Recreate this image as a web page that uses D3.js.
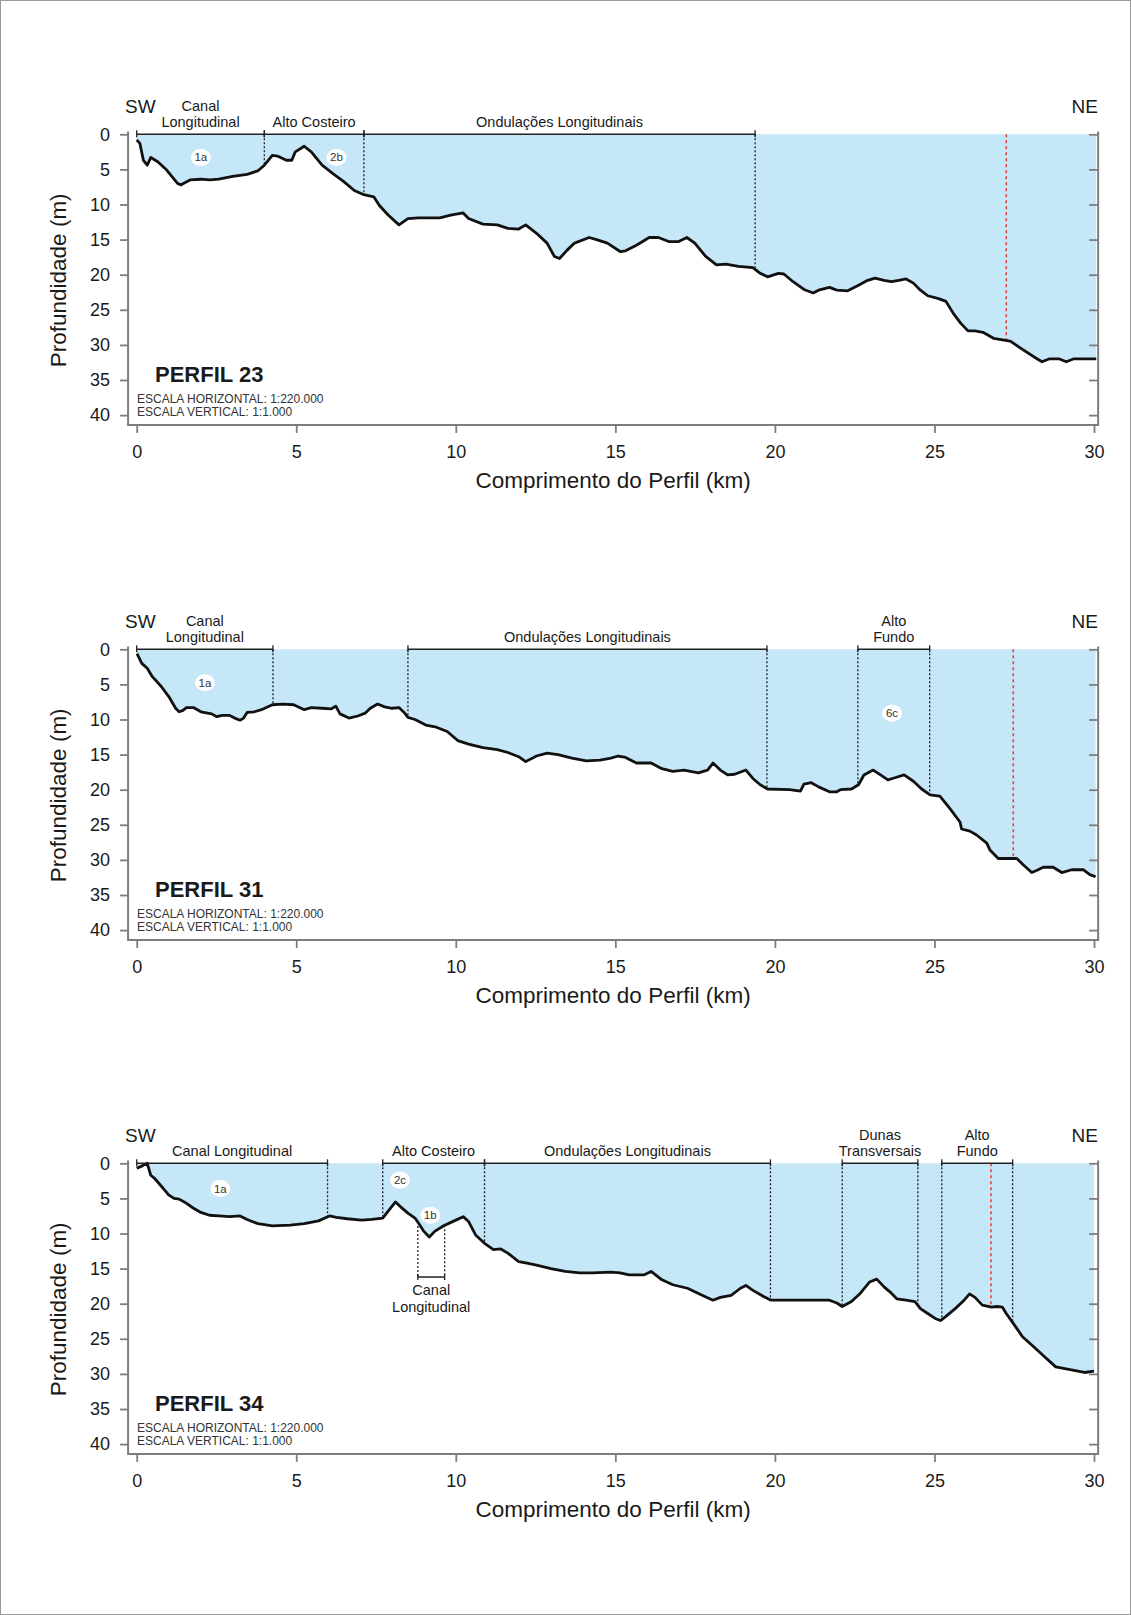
<!DOCTYPE html>
<html>
<head>
<meta charset="utf-8">
<script src="https://cdn.jsdelivr.net/npm/d3@7"></script>
<style>
  body { margin: 0; background: #fff; }
  text { font-family: "Liberation Sans", Arial, sans-serif; fill: #1a1a1a; }
</style>
</head>
<body>
<svg id="chart"></svg>
<script>
// ---- data: [distance km, depth m] ----
var profile23 = [[0,0.8],[0.1,1.3],[0.21,3.7],[0.33,4.4],[0.44,3.3],[0.66,3.9],[0.94,5.1],[1.28,7.0],[1.39,7.2],[1.67,6.5],[2.01,6.4],[2.3,6.5],[2.57,6.4],[3.01,6.0],[3.46,5.7],[3.8,5.2],[4.0,4.4],[4.25,3.0],[4.41,3.1],[4.69,3.7],[4.86,3.7],[4.97,2.5],[5.25,1.7],[5.47,2.5],[5.81,4.4],[6.15,5.6],[6.48,6.7],[6.82,8.0],[7.12,8.6],[7.43,8.9],[7.6,10.1],[7.88,11.5],[8.22,12.9],[8.5,12.0],[8.83,11.9],[9.5,11.9],[9.84,11.5],[10.23,11.2],[10.4,12.0],[10.85,12.8],[11.3,12.9],[11.63,13.4],[11.97,13.5],[12.19,12.9],[12.53,14.1],[12.86,15.5],[13.09,17.4],[13.25,17.7],[13.49,16.5],[13.72,15.5],[14.18,14.7],[14.41,15.0],[14.75,15.5],[15.15,16.7],[15.32,16.6],[15.66,15.8],[16.06,14.7],[16.35,14.7],[16.69,15.3],[16.97,15.3],[17.24,14.7],[17.49,15.5],[17.83,17.4],[18.17,18.6],[18.46,18.5],[18.86,18.8],[19.31,19.0],[19.54,19.8],[19.77,20.3],[20.11,19.8],[20.28,19.9],[20.57,21.0],[20.91,22.1],[21.2,22.6],[21.37,22.2],[21.71,21.8],[21.94,22.2],[22.28,22.3],[22.62,21.5],[22.91,20.8],[23.14,20.5],[23.42,20.8],[23.65,21.0],[23.88,20.8],[24.11,20.6],[24.34,21.2],[24.56,22.2],[24.79,23.0],[25.13,23.4],[25.36,23.8],[25.59,25.5],[25.82,26.9],[26.05,28.0],[26.27,28.0],[26.52,28.2],[26.85,29.06],[27.28,29.4],[27.39,29.5],[27.71,30.5],[28.15,31.8],[28.37,32.4],[28.59,32.0],[28.92,32.0],[29.13,32.4],[29.35,32.0],[30.07,32.0]];

var profile31 = [[0.01,0.6],[0.16,2.0],[0.33,2.7],[0.49,3.9],[0.77,5.3],[1.0,6.7],[1.22,8.4],[1.33,8.9],[1.45,8.7],[1.56,8.3],[1.78,8.3],[2.01,8.9],[2.35,9.2],[2.51,9.6],[2.68,9.4],[2.9,9.4],[3.07,9.8],[3.24,10.1],[3.35,9.8],[3.46,9.0],[3.69,8.9],[3.91,8.6],[4.25,7.9],[4.58,7.8],[4.92,7.9],[5.25,8.6],[5.47,8.3],[5.81,8.4],[6.09,8.5],[6.24,8.1],[6.37,9.2],[6.65,9.8],[6.93,9.5],[7.16,9.1],[7.32,8.4],[7.55,7.8],[7.77,8.2],[8.0,8.4],[8.22,8.3],[8.38,9.0],[8.5,9.7],[8.72,10.0],[9.06,10.8],[9.39,11.1],[9.73,11.7],[10.06,13.0],[10.4,13.5],[10.85,14.0],[11.3,14.3],[11.63,14.7],[11.97,15.3],[12.19,16.0],[12.53,15.2],[12.86,14.8],[13.2,15.0],[13.64,15.5],[14.09,15.9],[14.52,15.8],[14.86,15.5],[15.09,15.2],[15.32,15.4],[15.66,16.2],[16.12,16.2],[16.46,17.0],[16.8,17.4],[17.15,17.2],[17.6,17.6],[17.89,17.2],[18.06,16.2],[18.29,17.2],[18.52,17.9],[18.74,17.8],[19.09,17.2],[19.31,18.4],[19.54,19.3],[19.77,19.9],[20.46,20.0],[20.8,20.2],[20.91,19.2],[21.14,19.0],[21.37,19.6],[21.71,20.3],[21.94,20.3],[22.05,20.0],[22.4,19.9],[22.62,19.3],[22.79,17.9],[23.08,17.2],[23.31,17.9],[23.54,18.6],[23.76,18.3],[24.05,17.9],[24.34,18.8],[24.6,19.9],[24.86,20.75],[25.17,20.9],[25.48,22.65],[25.8,24.6],[25.85,25.6],[26.11,25.9],[26.32,26.45],[26.64,27.6],[26.74,28.6],[27.0,29.8],[27.58,29.8],[27.78,30.7],[28.05,31.8],[28.2,31.5],[28.41,31.05],[28.72,31.05],[28.99,31.8],[29.3,31.4],[29.66,31.4],[29.87,32.1],[30.05,32.4]];

var profile34 = [[0,0.7],[0.16,0.4],[0.33,0.0],[0.44,1.7],[0.55,2.1],[0.78,3.3],[1.0,4.5],[1.17,5.0],[1.33,5.1],[1.56,5.7],[1.78,6.4],[2.01,7.0],[2.28,7.4],[2.57,7.5],[2.9,7.6],[3.24,7.5],[3.46,8.0],[3.8,8.6],[4.25,8.9],[4.81,8.8],[5.25,8.6],[5.7,8.2],[6.04,7.5],[6.26,7.7],[6.6,7.9],[7.04,8.1],[7.37,8.0],[7.71,7.8],[7.88,6.8],[8.11,5.5],[8.27,6.2],[8.5,7.1],[8.72,7.8],[8.83,8.5],[9.0,9.7],[9.17,10.5],[9.34,9.7],[9.62,8.9],[9.95,8.2],[10.23,7.6],[10.4,8.3],[10.62,10.2],[10.9,11.4],[11.18,12.3],[11.41,12.2],[11.63,12.8],[11.97,14.0],[12.19,14.2],[12.53,14.5],[12.98,15.0],[13.43,15.4],[13.88,15.6],[14.29,15.6],[14.86,15.5],[15.15,15.6],[15.43,15.9],[15.89,15.9],[16.12,15.4],[16.46,16.6],[16.8,17.3],[17.26,17.8],[17.72,18.8],[18.06,19.5],[18.29,19.1],[18.63,18.8],[18.92,17.8],[19.09,17.4],[19.31,18.1],[19.66,19.0],[19.88,19.5],[20.34,19.5],[21.71,19.5],[21.94,19.9],[22.11,20.4],[22.4,19.7],[22.68,18.5],[22.97,16.9],[23.19,16.5],[23.42,17.6],[23.65,18.5],[23.82,19.3],[24.11,19.5],[24.39,19.7],[24.56,20.7],[24.79,21.4],[25.02,22.1],[25.19,22.4],[25.36,21.8],[25.65,20.7],[25.93,19.5],[26.1,18.6],[26.27,19.1],[26.5,20.2],[26.79,20.5],[26.96,20.4],[27.13,20.5],[27.25,21.4],[27.47,22.8],[27.76,24.7],[28.1,26.1],[28.39,27.3],[28.8,29.0],[29.25,29.4],[29.7,29.8],[30.0,29.6]];

// morphology segments along the top (km)
var brackets23 = [{from:0, to:4.0, label:["Canal","Longitudinal"]},
                  {from:4.0, to:7.12, label:["Alto Costeiro"]},
                  {from:7.12, to:19.38, label:["Ondulações Longitudinais"]}];
var brackets31 = [{from:0, to:4.27, label:["Canal","Longitudinal"]},
                  {from:8.5, to:19.75, label:["Ondulações Longitudinais"]},
                  {from:22.6, to:24.85, label:["Alto","Fundo"]}];
var brackets34 = [{from:0, to:5.98, label:["Canal Longitudinal"]},
                  {from:7.71, to:10.9, label:["Alto Costeiro"]},
                  {from:10.9, to:19.86, label:["Ondulações Longitudinais"]},
                  {from:22.11, to:24.48, label:["Dunas","Transversais"]},
                  {from:25.23, to:27.45, label:["Alto","Fundo"]}];

// dotted boundaries and the red marker (km)
var cuts23 = [4.0, 7.12, 19.38];
var cuts31 = [4.27, 8.5, 19.75, 22.6, 24.85];
var cuts34 = [5.98, 7.71, 10.9, 19.86, 22.11, 24.48, 25.23, 27.45];
var red23 = 27.25, red31 = 27.47, red34 = 26.77;

// unit tags [km, depth, text]
var tags23 = [[2.01,3.3,"1a"],[6.26,3.3,"2b"]];
var tags31 = [[2.14,4.75,"1a"],[23.67,9.1,"6c"]];
var tags34 = [[2.62,3.6,"1a"],[8.25,2.4,"2c"],[9.2,7.4,"1b"]];

// the small channel bracket under profile 34
var subCanal34 = {from:8.81, to:9.65, depth:16.2, label:["Canal","Longitudinal"]};

var titles = ["PERFIL 23","PERFIL 31","PERFIL 34"];
var depthTicks = [0,5,10,15,20,25,30,35,40];
var kmTicks = [0,5,10,15,20,25,30];

var W = 1131, H = 1615;
var svg = d3.select("#chart").attr("width", W).attr("height", H);

svg.append("rect").attr("x",0.5).attr("y",0.5).attr("width",W-1).attr("height",H-1)
   .attr("fill","#fff").attr("stroke","#9a9a9a").attr("stroke-width",1);

var panelTops = [134.3, 649.3, 1163.3];
var axisColor = "#7d7d7d";

function depthAt(profile, km) {
  var i = d3.bisector(function(d){return d[0];}).left(profile, km);
  if (i <= 0) return profile[0][1];
  if (i >= profile.length) return profile[profile.length-1][1];
  var a = profile[i-1], b = profile[i];
  var t = (km - a[0]) / (b[0] - a[0]);
  return a[1] + t*(b[1]-a[1]);
}

var drawPanel = function(top, profile, brackets, cuts, red, tags, title, sub)
{
  var x = d3.scaleLinear().domain([0,30]).range([136.7, 1094]);
  var y = d3.scaleLinear().domain([0,40]).range([top, top + 280.8]);

  var g = svg.append("g");
  var left = x(-0.27), right = x(30.13), bottom = y(41.4), axTop = y(-0.4);

  // water
  var area = d3.area()
               .x(function(d){return x(d[0]);})
               .y0(y(0))
               .y1(function(d){return y(d[1]);});
  g.append("path").datum(profile)
   .attr("d", area)
   .attr("fill", "#c6e7f8");

  // dotted boundaries
  g.selectAll("line.cut").data(cuts).enter().append("line")
   .attr("x1", function(d){return x(d);}).attr("x2", function(d){return x(d);})
   .attr("y1", y(0)).attr("y2", function(d){return y(depthAt(profile,d));})
   .attr("stroke", "#222").attr("stroke-width", 1.3).attr("stroke-dasharray","2,2");

  g.append("line")
   .attr("x1", x(red)).attr("x2", x(red))
   .attr("y1", y(0)).attr("y2", y(depthAt(profile,red)))
   .attr("stroke", "#e2463c").attr("stroke-width", 1.6).attr("stroke-dasharray","3,3");

  // seabed
  var line = d3.line().x(function(d){return x(d[0]);}).y(function(d){return y(d[1]);});
  g.append("path").datum(profile)
   .attr("d", line)
   .attr("fill","none").attr("stroke","#111").attr("stroke-width",2.8)
   .attr("stroke-linejoin","round");

  // brackets on top
  var br = g.selectAll("g.br").data(brackets).enter().append("g");
  br.append("line")
    .attr("x1", function(d){return x(d.from);}).attr("x2", function(d){return x(d.to);})
    .attr("y1", y(0)).attr("y2", y(0))
    .attr("stroke","#222").attr("stroke-width",1.5);
  br.append("line")
    .attr("x1", function(d){return x(d.from);}).attr("x2", function(d){return x(d.from);})
    .attr("y1", y(0)-4).attr("y2", y(0)+3).attr("stroke","#222").attr("stroke-width",1.3);
  br.append("line")
    .attr("x1", function(d){return x(d.to);}).attr("x2", function(d){return x(d.to);})
    .attr("y1", y(0)-4).attr("y2", y(0)+3).attr("stroke","#222").attr("stroke-width",1.3);
  br.each(function(d){
    var n = d.label.length;
    var me = d3.select(this);
    d.label.forEach(function(s,i){
      me.append("text")
        .attr("x", x((d.from+d.to)/2))
        .attr("y", y(0) - 7 - (n-1-i)*16.5)
        .attr("text-anchor","middle")
        .style("font-size","14.5px")
        .text(s);
    });
  });

  // unit tags
  var tg = g.selectAll("g.tag").data(tags).enter().append("g");
  tg.append("ellipse")
    .attr("cx", function(d){return x(d[0]);}).attr("cy", function(d){return y(d[1]);})
    .attr("rx", 10).attr("ry", 8.5).attr("fill","#fff");
  tg.append("text")
    .attr("x", function(d){return x(d[0]);}).attr("y", function(d){return y(d[1]) + 4;})
    .attr("text-anchor","middle").style("font-size","11.5px").style("fill","#333")
    .text(function(d){return d[2];});

  if (sub) {
    [sub.from, sub.to].forEach(function(k){
      g.append("line").attr("x1",x(k)).attr("x2",x(k))
       .attr("y1", y(depthAt(profile,k))).attr("y2", y(sub.depth))
       .attr("stroke","#222").attr("stroke-width",1.3).attr("stroke-dasharray","2,2");
      g.append("line").attr("x1",x(k)).attr("x2",x(k))
       .attr("y1", y(sub.depth)-3).attr("y2", y(sub.depth)+3)
       .attr("stroke","#222").attr("stroke-width",1.3);
    });
    g.append("line").attr("x1",x(sub.from)).attr("x2",x(sub.to))
     .attr("y1",y(sub.depth)).attr("y2",y(sub.depth))
     .attr("stroke","#222").attr("stroke-width",1.5);
    sub.label.forEach(function(s,i){
      g.append("text").attr("x", x((sub.from+sub.to)/2))
       .attr("y", y(sub.depth) + 18 + i*17)
       .attr("text-anchor","middle").style("font-size","14.5px").text(s);
    });
  }

  // axes
  var yAxis = d3.axisLeft(y).tickValues(depthTicks).tickSize(8).tickPadding(10);
  var ya = g.append("g").attr("transform","translate("+left+",0)").call(yAxis);
  ya.select(".domain").remove();
  ya.selectAll(".tick line").attr("stroke",axisColor).attr("stroke-width",1.8);
  ya.selectAll(".tick text").style("font-size","18px").style("font-family",null);

  var yAxisR = d3.axisRight(y).tickValues(depthTicks).tickSize(-9).tickFormat("");
  var yr = g.append("g").attr("transform","translate("+right+",0)").call(yAxisR);
  yr.select(".domain").remove();
  yr.selectAll(".tick line").attr("stroke",axisColor).attr("stroke-width",1.8);

  var xAxis = d3.axisBottom(x).tickValues(kmTicks).tickSize(8).tickPadding(12);
  var xa = g.append("g").attr("transform","translate(0,"+bottom+")").call(xAxis);
  xa.select(".domain").remove();
  xa.selectAll(".tick line").attr("stroke",axisColor).attr("stroke-width",1.8);
  xa.selectAll(".tick text").style("font-size","18px").style("font-family",null);

  g.append("path")
   .attr("d","M"+left+","+axTop+"V"+bottom+"H"+right+"V"+axTop)
   .attr("fill","none").attr("stroke",axisColor).attr("stroke-width",2);

  // direction labels
  g.append("text").attr("x", 125).attr("y", top - 21)
   .style("font-size","19px").text("SW");
  g.append("text").attr("x", 1098).attr("y", top - 21).attr("text-anchor","end")
   .style("font-size","19px").text("NE");

  // titles
  g.append("text").attr("x", (left+right)/2).attr("y", top + 354)
   .attr("text-anchor","middle").style("font-size","22.5px")
   .text("Comprimento do Perfil (km)");
  g.append("text")
   .attr("transform","translate(66,"+(top+146)+") rotate(-90)")
   .attr("text-anchor","middle").style("font-size","22.5px")
   .text("Profundidade (m)");

  g.append("text").attr("x", 155).attr("y", top + 248)
   .style("font-size","22px").style("font-weight","bold").text(title);
  g.append("text").attr("x", 137).attr("y", top + 269)
   .style("font-size","12px").style("fill","#333").text("ESCALA HORIZONTAL: 1:220.000");
  g.append("text").attr("x", 137).attr("y", top + 282)
   .style("font-size","12px").style("fill","#333").text("ESCALA VERTICAL: 1:1.000");
}

drawPanel(panelTops[0], profile23, brackets23, cuts23, red23, tags23, titles[0], null);
drawPanel(panelTops[1], profile31, brackets31, cuts31, red31, tags31, titles[1], null);
drawPanel(panelTops[2], profile34, brackets34, cuts34, red34, tags34, titles[2], subCanal34);
</script>
</body>
</html>
